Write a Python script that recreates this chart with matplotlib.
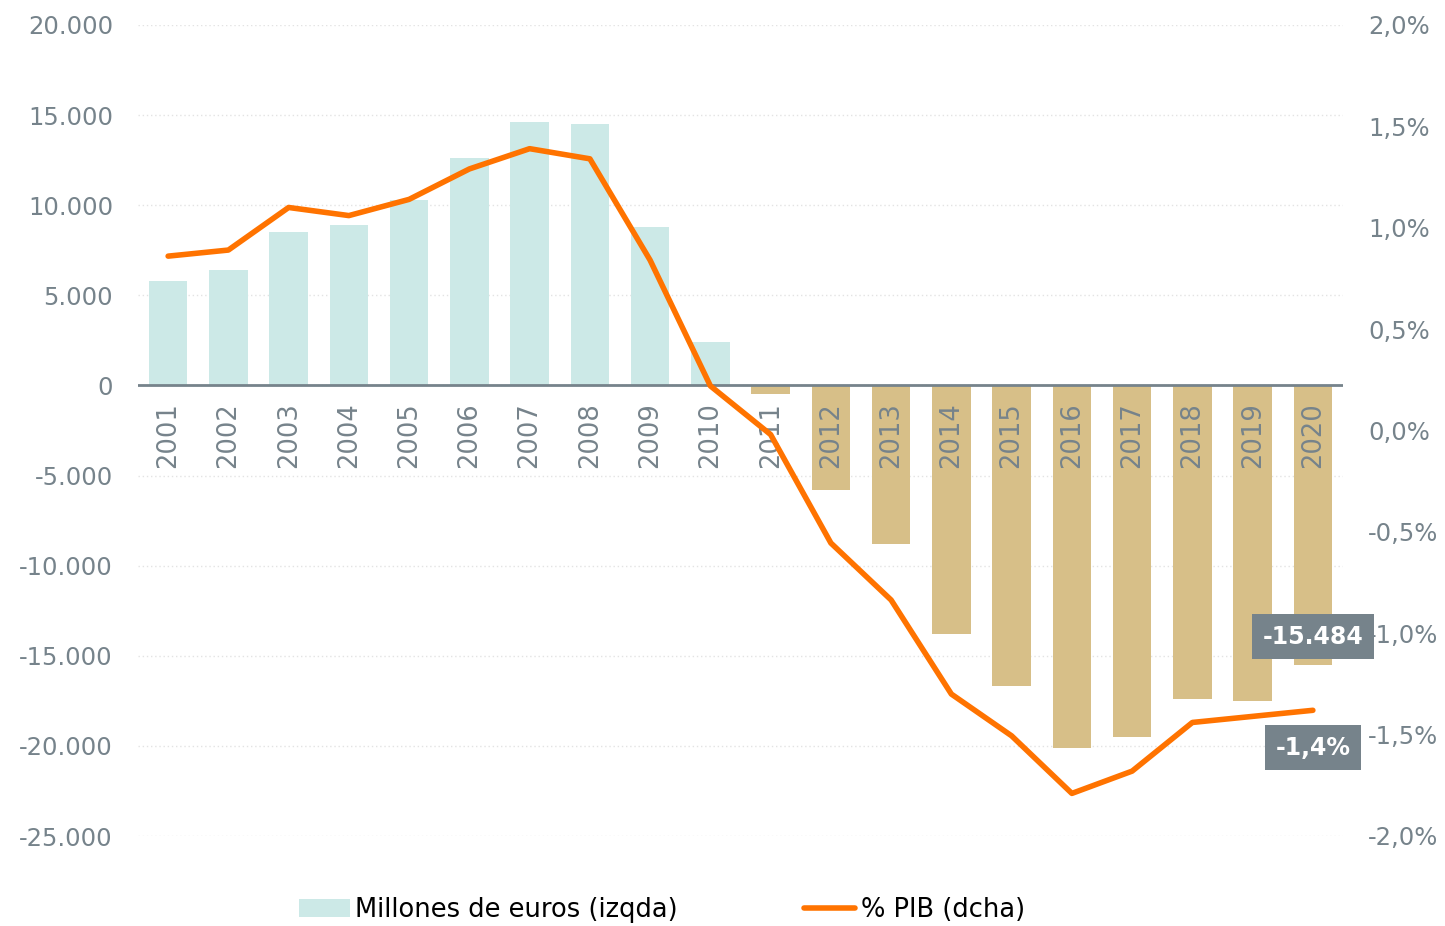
import numpy as np
import matplotlib.pyplot as plt
from matplotlib.ticker import FuncFormatter

# data
years = [str(y) for y in range(2001, 2021)]
millones = [5800, 6400, 8500, 8900, 10300, 12600, 14600, 14500, 8800, 2400,
            -500, -5800, -8800, -13800, -16700, -20100, -19500, -17400, -17500, -15484]
pct_pib = [0.86, 0.89, 1.10, 1.06, 1.14, 1.29, 1.39, 1.34, 0.84, 0.22,
           -0.02, -0.555, -0.836, -1.30, -1.506, -1.79, -1.68, -1.44, -1.41, -1.38]
left_ticks = [20000, 15000, 10000, 5000, 0, -5000, -10000, -15000, -20000, -25000]
right_ticks = [2.0, 1.5, 1.0, 0.5, 0.0, -0.5, -1.0, -1.5, -2.0]

GREY = '#76838b'
TEAL = '#cce9e7'
SAND = '#d7bf88'
ORANGE = '#ff7300'

plt.rcParams['font.family'] = ['DejaVu Sans']

fig = plt.figure(figsize=(14.45, 9.26), dpi=100)
ax = fig.add_axes([138 / 1445, 1 - 836 / 926, (1343 - 138) / 1445, (836 - 25) / 926])
ax2 = ax.twinx()

x = np.arange(len(years))
colors = [TEAL if v >= 0 else SAND for v in millones]
ax.bar(x, millones, width=0.64, color=colors, zorder=2, label='Millones de euros (izqda)')
ax.axhline(0, color=GREY, lw=2, zorder=3)

ax.set_xlim(-0.5, len(years) - 0.5)
ax.set_ylim(-25000, 20000)
ax.set_yticks(left_ticks)
ax.yaxis.set_major_formatter(FuncFormatter(lambda v, p: f'{int(v):,}'.replace(',', '.')))
ax.grid(axis='y', color='#e3e3e3', linestyle=(0, (1, 2)), lw=1, zorder=0)
ax.set_xticks([])
ax.tick_params(axis='y', length=0, labelsize=17.5, labelcolor=GREY, pad=18)

for xi, yr in zip(x, years):
    ax.text(xi, -950, yr, rotation=90, ha='center', va='top', fontsize=18.5, color=GREY, zorder=4)

ax2.plot(x, pct_pib, color=ORANGE, lw=4, zorder=5, solid_capstyle='round',
         label='% PIB (dcha)')
ax2.set_ylim(-2.0, 2.0)
ax2.set_yticks(right_ticks)
ax2.yaxis.set_major_formatter(FuncFormatter(lambda v, p: f'{v:.1f}%'.replace('.', ',')))
ax2.tick_params(axis='y', length=0, labelsize=17.5, labelcolor=GREY, pad=18)

for a in (ax, ax2):
    for s in a.spines.values():
        s.set_visible(False)

# end-value labels
ax.annotate(f'{millones[-1]:,}'.replace(',', '.'), xy=(x[-1], millones[-1]),
            xytext=(0, 20), textcoords='offset points', ha='center', va='center',
            fontsize=17, fontweight='bold', color='white', zorder=6,
            bbox=dict(boxstyle='square,pad=0.45', fc=GREY, ec='none'))
ax2.annotate(f'{pct_pib[-1]:.1f}%'.replace('.', ','), xy=(x[-1], pct_pib[-1]),
             xytext=(0, -27), textcoords='offset points', ha='center', va='center',
             fontsize=17, fontweight='bold', color='white', zorder=6,
             bbox=dict(boxstyle='square,pad=0.45', fc=GREY, ec='none'))

h1, l1 = ax.get_legend_handles_labels()
h2, l2 = ax2.get_legend_handles_labels()
fig.legend(h1 + h2, l1 + l2, loc='center', bbox_to_anchor=(0.458, 0.017), ncol=2,
           frameon=False, fontsize=18.5, handlelength=2.0, handletextpad=0.2,
           columnspacing=4.9)

fig.savefig('out.png', dpi=100)
